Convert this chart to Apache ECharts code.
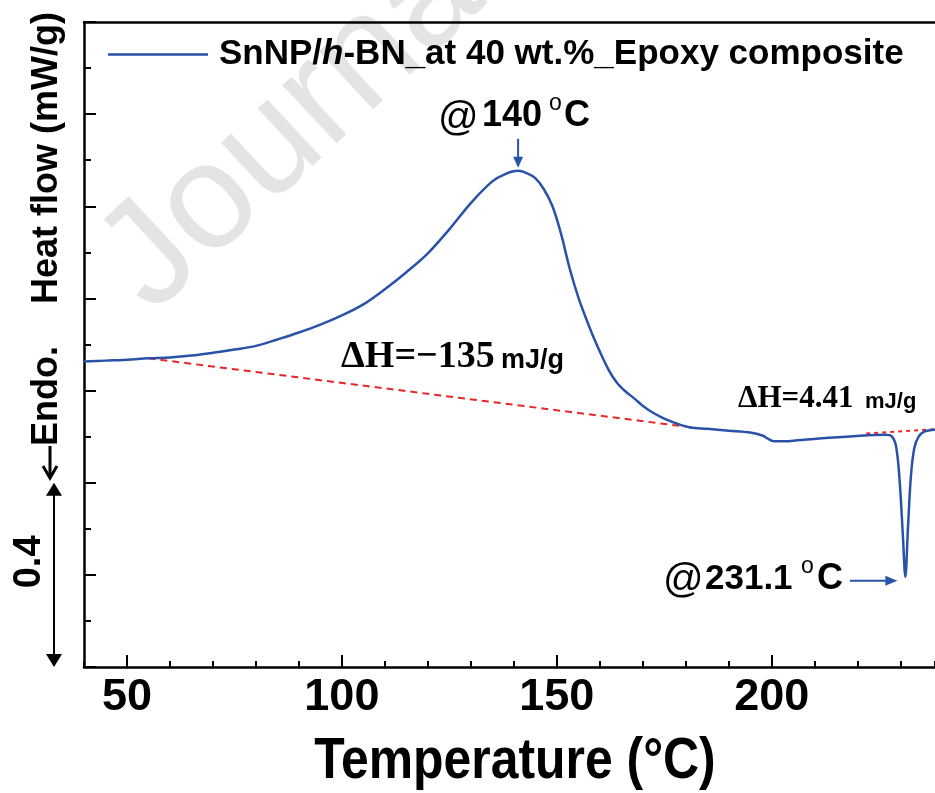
<!DOCTYPE html>
<html>
<head>
<meta charset="utf-8">
<script src="https://cdn.jsdelivr.net/npm/echarts@6.0.0/dist/echarts.min.js"></script>
<style>
  html, body { margin: 0; padding: 0; background: #fff; }
  #chart { width: 935px; height: 793px; }
</style>
</head>
<body>
<div id="chart"></div>
<script>
// DSC trace (temperature in degC, heat flow in mW/g, arbitrary offset)
const temperature = [40, 45, 50, 55, 60, 65, 70, 75, 80, 85, 90, 95, 100, 105, 110, 115, 120, 125, 130, 135,
  138, 141, 143, 145, 147, 149, 151, 153, 155, 157, 159, 162, 164, 166, 168, 170, 172, 175, 178, 181,
  185, 190, 195, 198, 199, 200.5, 203, 206, 211, 219, 226.5, 228, 229, 229.8, 230.5, 231.1, 231.7, 232.4, 233.2, 234.2,
  235.5, 238]
const heatFlow = [0.663, 0.665, 0.667, 0.670, 0.672, 0.676, 0.682, 0.689, 0.697, 0.711, 0.726, 0.743, 0.763, 0.787, 0.820, 0.857, 0.898, 0.950, 1.007, 1.054,
  1.070, 1.077, 1.072, 1.061, 1.037, 1.000, 0.940, 0.865, 0.803, 0.752, 0.706, 0.646, 0.617, 0.598, 0.583, 0.567, 0.554, 0.539, 0.528, 0.520,
  0.517, 0.513, 0.509, 0.502, 0.496, 0.490, 0.490, 0.492, 0.496, 0.501, 0.504, 0.500, 0.476, 0.400, 0.290, 0.196, 0.300, 0.415, 0.476, 0.500,
  0.511, 0.515]

// integration baselines (red dashed)
const cureBaselineT = [55, 181.5]
const cureBaselineV = [0.670, 0.520]
const meltBaselineT = [222, 238]
const meltBaselineV = [0.507, 0.516]

const majorTicks = [50, 100, 150, 200]
const scaleBar = [0, 0.4]

const SERIES_NAME = 'SnNP/h-BN_at 40 wt.%_Epoxy composite'
const SANS = "'Liberation Sans', Arial, sans-serif"
const SERIF = "'Liberation Serif', 'Times New Roman', serif"
const BLUE = '#2a52a8'
const RED = '#e8262a'
const BLACK = '#000'

const zip = (xs, ys) => xs.map((x, i) => [x, ys[i]])

const chart = echarts.init(document.getElementById('chart'))

chart.setOption({
  animation: false,
  backgroundColor: '#fff',
  grid: { left: 84, right: 0, top: 22, bottom: 126 },
  legend: {
    data: [SERIES_NAME],
    left: 103,
    top: 32,
    icon: 'rect',
    itemWidth: 100,
    itemHeight: 2.5,
    itemStyle: { color: BLUE },
    formatter: () => 'SnNP/{i|h}-BN_at 40 wt.%_Epoxy composite',
    textStyle: {
      color: BLACK,
      fontSize: 35,
      fontWeight: 'bold',
      fontFamily: SANS,
      padding: [0, 0, 0, 6],
      rich: {
        i: { fontSize: 35, fontWeight: 'bold', fontStyle: 'italic', fontFamily: SANS, color: BLACK }
      }
    }
  },
  xAxis: [
    {
      type: 'value',
      min: 40,
      max: 238,
      position: 'bottom',
      axisLine: { show: true, onZero: false, lineStyle: { color: BLACK, width: 2.5 } },
      axisTick: { show: true, inside: true, length: 12, customValues: majorTicks, lineStyle: { color: BLACK, width: 2 } },
      axisLabel: {
        show: true,
        customValues: majorTicks,
        margin: 8,
        fontSize: 45,
        fontWeight: 'bold',
        fontFamily: SANS,
        color: BLACK
      },
      splitLine: { show: false }
    },
    {
      // minor ticks every 10 degC
      type: 'value',
      min: 40,
      max: 238,
      interval: 10,
      position: 'bottom',
      axisLine: { show: false },
      axisTick: { show: true, inside: true, length: 6, lineStyle: { color: BLACK, width: 2 } },
      axisLabel: { show: false },
      splitLine: { show: false }
    },
    {
      // top frame
      type: 'value',
      min: 40,
      max: 238,
      position: 'top',
      axisLine: { show: true, lineStyle: { color: BLACK, width: 2.5 } },
      axisTick: { show: false },
      axisLabel: { show: false },
      splitLine: { show: false }
    }
  ],
  yAxis: {
    type: 'value',
    min: 0,
    max: 1.4,
    interval: 0.2,
    axisLine: { show: true, onZero: false, lineStyle: { color: BLACK, width: 2.5 } },
    axisTick: { show: true, inside: true, length: 12, lineStyle: { color: BLACK, width: 2 } },
    minorTick: { show: true, splitNumber: 2, length: 7, lineStyle: { color: BLACK, width: 2 } },
    axisLabel: { show: false },
    splitLine: { show: false }
  },
  series: [
    {
      name: SERIES_NAME,
      type: 'line',
      xAxisIndex: 0,
      data: zip(temperature, heatFlow),
      symbol: 'none',
      smooth: 0.35,
      color: BLUE,
      lineStyle: { color: BLUE, width: 2.5 },
      z: 3
    },
    {
      name: 'cure baseline',
      type: 'line',
      xAxisIndex: 0,
      data: zip(cureBaselineT, cureBaselineV),
      symbol: 'none',
      lineStyle: { color: RED, width: 2, type: [7, 5] },
      z: 2
    },
    {
      name: 'melt baseline',
      type: 'line',
      xAxisIndex: 0,
      data: zip(meltBaselineT, meltBaselineV),
      symbol: 'none',
      lineStyle: { color: RED, width: 2, type: [4, 4] },
      z: 2
    }
  ]
})

const toPx = (x, y) => chart.convertToPixel({ seriesIndex: 0 }, [x, y])

function text(x, y, str, size, opts) {
  opts = opts || {}
  const align = opts.align || 'left'
  return {
    type: 'text',
    x: x,
    y: y,
    rotation: opts.rotation || 0,
    scaleX: opts.scaleX || 1,
    silent: true,
    z: opts.z == null ? 10 : opts.z,
    style: {
      text: str,
      fontSize: size,
      fontWeight: opts.weight || 'bold',
      fontFamily: opts.family || SANS,
      fill: opts.color || BLACK,
      align: align,
      textAlign: align,
      verticalAlign: 'middle',
      textVerticalAlign: 'middle'
    }
  }
}

function line(x1, y1, x2, y2, color, width) {
  return { type: 'line', silent: true, z: 10, shape: { x1, y1, x2, y2 }, style: { stroke: color, lineWidth: width } }
}

function tri(points, color) {
  return { type: 'polygon', silent: true, z: 10, shape: { points }, style: { fill: color } }
}

const peakIdx = heatFlow.indexOf(Math.max(...heatFlow))
const dipIdx = heatFlow.indexOf(Math.min(...heatFlow))
const [pkX, pkY] = toPx(temperature[peakIdx], heatFlow[peakIdx])
const [dpX, dpY] = toPx(temperature[dipIdx], heatFlow[dipIdx])
const barBottom = toPx(40, scaleBar[0])[1]
const barTop = toPx(40, scaleBar[1])[1]
const barX = 54

const graphics = [
  // watermark
  text(124, 285, 'Journal Pre-proof', 150, { rotation: 43 * Math.PI / 180, weight: 'normal', color: '#e4e4e4', z: 0 }),

  // y axis title and scale bar
  text(47, 158, 'Heat flow (mW/g)', 36, { rotation: Math.PI / 2, align: 'center' }),
  text(47, 396, 'Endo.', 36, { rotation: Math.PI / 2, align: 'center' }),
  line(50, 446, 50, 477, BLACK, 3),
  { type: 'polyline', silent: true, z: 10, shape: { points: [[43, 466], [50, 478], [57, 466]] }, style: { stroke: BLACK, lineWidth: 3, fill: null } },
  line(barX, barTop + 10, barX, barBottom - 10, BLACK, 2),
  tri([[barX, barTop], [barX - 8, barTop + 13], [barX + 8, barTop + 13]], BLACK),
  tri([[barX, barBottom], [barX - 8, barBottom - 13], [barX + 8, barBottom - 13]], BLACK),
  text(30, (barTop + barBottom) / 2 - 13, '0.4', 38, { rotation: Math.PI / 2, align: 'center' }),

  // x axis title
  text(515, 762, 'Temperature (\u00B0C)', 57, { align: 'center', scaleX: 0.875 }),

  // exotherm peak label
  text(438, 119, '@', 40, { weight: 'normal' }),
  text(482, 116.5, '140', 36),
  text(549, 104, 'o', 23, { weight: 'normal' }),
  text(564, 116.5, 'C', 36),
  line(pkX, pkY - 32, pkX, pkY - 12, BLUE, 2),
  tri([[pkX, pkY - 3], [pkX - 5, pkY - 14], [pkX + 5, pkY - 14]], BLUE),

  // melting peak label
  text(663, 581, '@', 40, { weight: 'normal' }),
  text(705, 579, '231.1', 35),
  text(801, 567, 'o', 23, { weight: 'normal' }),
  text(817, 579, 'C', 36),
  line(850, dpY + 4, dpX - 18, dpY + 4, BLUE, 2),
  tri([[dpX - 8, dpY + 4], [dpX - 20, dpY - 1], [dpX - 20, dpY + 9]], BLUE),

  // enthalpies
  text(341, 357.5, '\u0394H=\u2212135', 38, { family: SERIF }),
  text(501, 361, 'mJ/g', 27),
  text(738, 399, '\u0394H=4.41', 31, { family: SERIF }),
  text(865, 402, 'mJ/g', 22)
]

chart.setOption({ graphic: graphics })
</script>
</body>
</html>
